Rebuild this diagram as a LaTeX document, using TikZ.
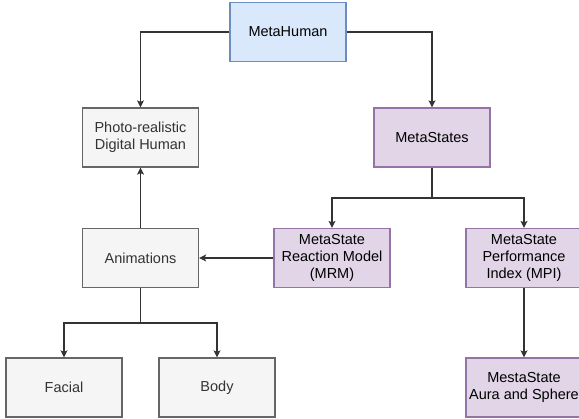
\documentclass[tikz,border=0pt]{standalone}
\usepackage{fontspec}
\setmainfont{Liberation Sans}
\usetikzlibrary{arrows.meta}
\definecolor{bluef}{HTML}{DAE8FC}
\definecolor{blued}{HTML}{6C8EBF}
\definecolor{purf}{HTML}{E1D5E7}
\definecolor{purd}{HTML}{9673A6}
\definecolor{grayf}{HTML}{F5F5F5}
\definecolor{grayd}{HTML}{666666}
\definecolor{txt}{HTML}{333333}
\definecolor{linec}{HTML}{333333}
\tikzset{
  x=1pt,y=-1pt,
  box/.style={rectangle,minimum width=116pt,minimum height=59pt,line width=1.2pt,align=center,
    font=\fontsize{14.5}{17}\selectfont,inner sep=0pt},
  bluebox/.style={box,fill=bluef,draw=blued,text=black},
  purbox/.style={box,fill=purf,draw=purd,text=black},
  graybox/.style={box,fill=grayf,draw=grayd,text=txt},
  conn/.style={draw=linec,line width=1.2pt},
  arr/.style={conn,-{Stealth[length=7pt,width=7pt,inset=1.5pt]}}
}
\begin{document}
\begin{tikzpicture}
\useasboundingbox (0,0) rectangle (579,419);
\clip (0,0) rectangle (579,419);
\node[bluebox] (mh) at (288,32) {MetaHuman};
\node[graybox] (pdh) at (140.5,137.5) {Photo-realistic\\Digital Human};
\node[purbox] (ms) at (432,137.5) {MetaStates};
\node[graybox] (anim) at (140.5,258) {Animations};
\node[purbox] (mrm) at (332,258) {MetaState\\Reaction Model\\(MRM)};
\node[purbox] (mpi) at (524,258) {MetaState\\Performance\\Index (MPI)};
\node[graybox] (fac) at (64,387.5) {Facial};
\node[graybox] (body) at (217,387.5) {Body};
\node[purbox] (aura) at (524,387.5) {MestaState\\Aura and Sphere};
\coordinate (b1) at (432,198);
\coordinate (b2) at (140.5,323);
\draw[arr] (mh.west) -| (pdh.north);
\draw[arr] (mh.east) -| (ms.north);
\draw[conn] (ms.south) -- (b1);
\draw[arr] (b1) -| (mrm.north);
\draw[arr] (b1) -| (mpi.north);
\draw[arr] (mpi.south) -- (aura.north);
\draw[arr] (mrm.west) -- (anim.east);
\draw[arr] (anim.north) -- (pdh.south);
\draw[conn] (anim.south) -- (b2);
\draw[arr] (b2) -| (fac.north);
\draw[arr] (b2) -| (body.north);
\end{tikzpicture}
\end{document}
